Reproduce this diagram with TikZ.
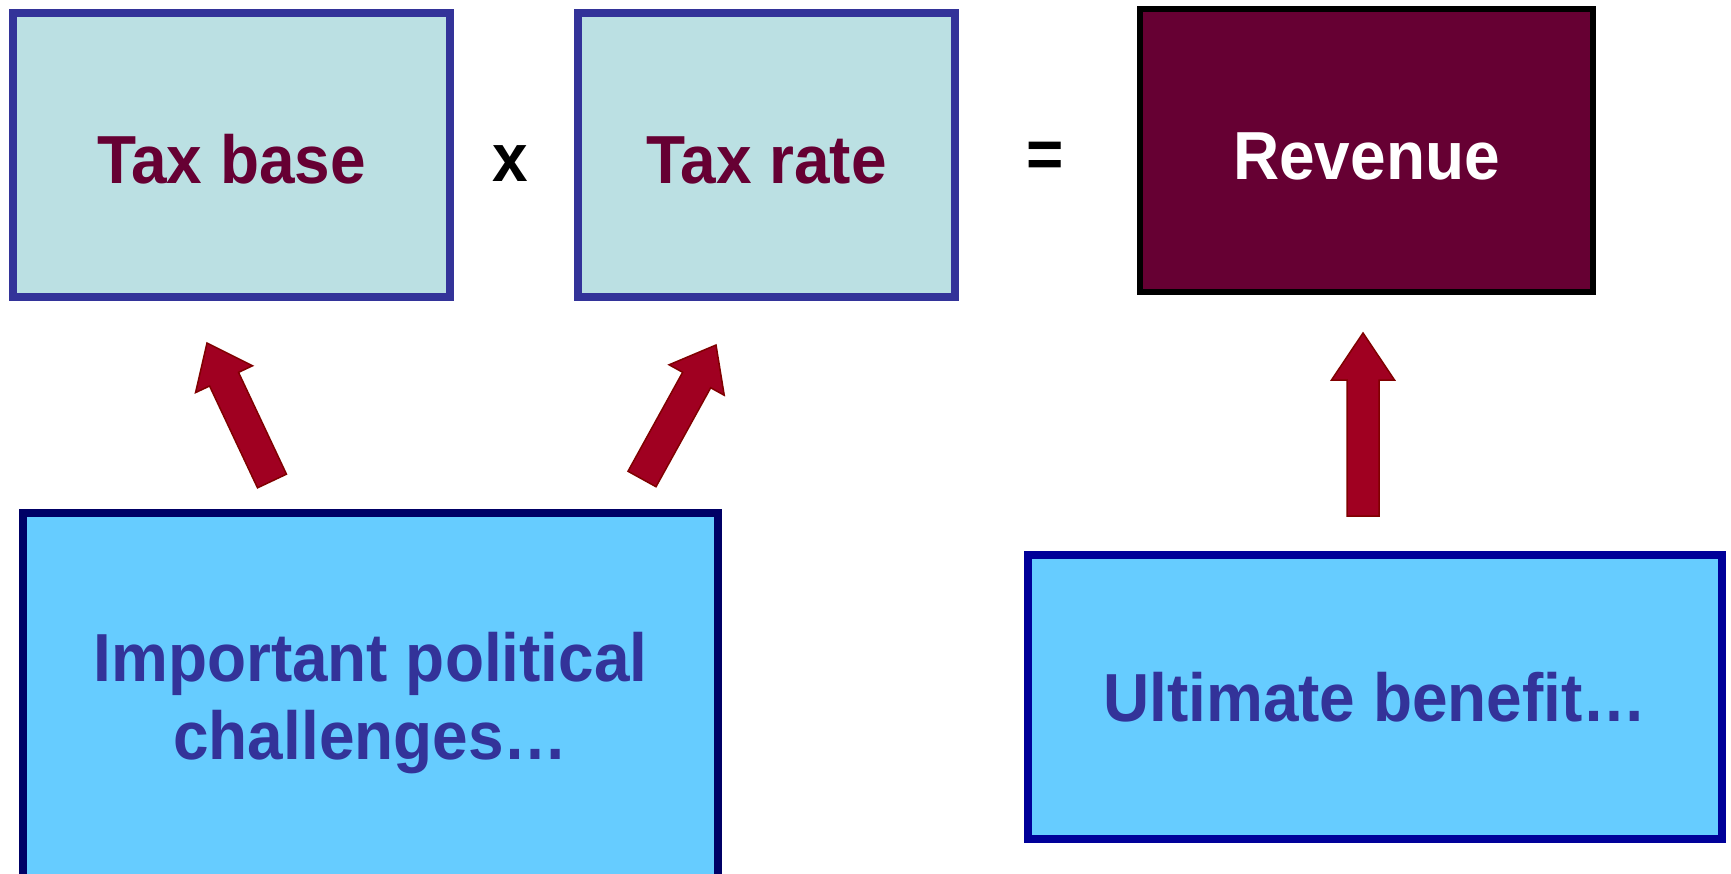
\documentclass[tikz,border=0pt]{standalone}
\usepackage{fontspec}
\setmainfont{Liberation Sans}[FakeStretch=0.94]
\usetikzlibrary{calc}
\definecolor{taxfill}{HTML}{BBE0E3}
\definecolor{taxline}{HTML}{333399}
\definecolor{wine}{HTML}{660033}
\definecolor{skyfill}{HTML}{66CCFF}
\definecolor{navyA}{HTML}{000066}
\definecolor{navyB}{HTML}{000099}
\definecolor{txtblue}{HTML}{333399}
\definecolor{arrfill}{HTML}{A00021}
\definecolor{arrline}{HTML}{800000}
\newcommand\blockarrow[3]{%
  \path ($(#2)!#3!(#1)$) coordinate (hb);
  \filldraw[barrow] ($(#1)!16pt!90:(#2)$) -- ($(hb)!16pt!90:(#2)$) -- ($(hb)!31.5pt!90:(#2)$) -- (#2)
    -- ($(hb)!31.5pt!-90:(#2)$) -- ($(hb)!16pt!-90:(#2)$) -- ($(#1)!16pt!-90:(#2)$) -- cycle;}
\begin{document}
\begin{tikzpicture}[x=1pt,y=-1pt,
  bigtext/.style={font=\fontsize{68}{78}\selectfont\bfseries},
  taxbox/.style={draw=taxline, fill=taxfill, line width=8pt, rectangle, inner sep=0pt, bigtext, text=wine,
    text height=56pt, text depth=0pt},
  revbox/.style={draw=black, fill=wine, line width=6pt, rectangle, inner sep=0pt, bigtext, text=white,
    text height=58pt, text depth=0pt},
  skybox/.style={fill=skyfill, line width=8pt, rectangle, inner sep=0pt, bigtext, text=txtblue, align=center},
  opsym/.style={bigtext, text=black, inner sep=0pt},
  barrow/.style={fill=arrfill, draw=arrline, line width=1.5pt, line join=miter}]
\useasboundingbox (0,0) rectangle (1731,873);
\clip (0,0) rectangle (1731,873);
\fill[white] (0,0) rectangle (1731,873);

\node[taxbox, minimum width=437pt, minimum height=284pt] (taxbase) at (231.5,155) {Tax base};
\node[taxbox, minimum width=377pt, minimum height=284pt] (taxrate) at (766.5,155) {Tax rate};
\node[revbox, minimum width=453pt, minimum height=283pt] (revenue) at (1366.5,150.5) {Revenue};
\node[opsym] (times) at (510,164) {x};
\node[opsym] (equals) at (1045,160) {=};

\node[skybox, draw=navyA, minimum width=695pt, minimum height=380pt] (polchal) at (370.5,703)
  {Important political\\challenges…};
\node[skybox, draw=navyB, minimum width=694pt, minimum height=284pt] (benefit) at (1375,697)
  {Ultimate benefit…};

\coordinate (a1t) at (272,481);
\coordinate (a1h) at (207,343);
\coordinate (a2t) at (642,479);
\coordinate (a2h) at (716,345);
\coordinate (a3t) at (1363,516);
\coordinate (a3h) at (1363,333);
\blockarrow{a1t}{a1h}{40pt}
\blockarrow{a2t}{a2h}{40pt}
\blockarrow{a3t}{a3h}{47pt}
\end{tikzpicture}
\end{document}
